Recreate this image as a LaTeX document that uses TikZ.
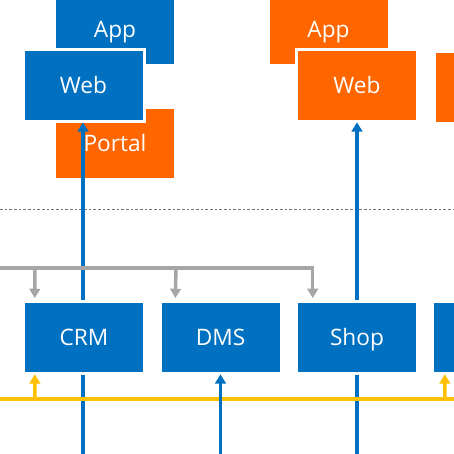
\documentclass[tikz,border=0pt]{standalone}
\usepackage{fontspec}
\setmainfont{Open Sans}
\usetikzlibrary{arrows.meta}
\usetikzlibrary{calc}

\definecolor{sysblue}{RGB}{0,112,192}
\definecolor{sysorange}{RGB}{255,102,0}
\definecolor{busgray}{RGB}{166,166,166}
\definecolor{busyellow}{RGB}{255,192,0}

\tikzset{
  sysbox/.style={rectangle, minimum width=88.5pt, minimum height=51.75pt, inner sep=0pt,
    text=white, font=\fontsize{17}{19}\selectfont, text height=12pt, text depth=0pt,
    preaction={draw=white, line width=5pt}},
  blueline/.style={draw=sysblue, line width=2.6pt},
  grayline/.style={draw=busgray, line width=2.6pt},
  yellowline/.style={draw=busyellow, line width=2.6pt},
  tip/.style={-{Triangle[width=8pt,length=7pt]}},
}

\begin{document}
\begin{tikzpicture}[x=0.75pt,y=0.75pt,yscale=-1,xscale=1]
\clip (0,0) rectangle (454,454);

%Left channel boxes
\node[sysbox, fill=sysblue] (appL) at (115,29.5) {App};
\node[sysbox, fill=sysorange] (portal) at (115,143.5) {Portal};
\node[sysbox, fill=sysblue] (webL) at (83.5,85.5) {Web};

%Right channel boxes
\node[sysbox, fill=sysorange] (appR) at (328.5,29.5) {App};
\node[sysbox, fill=sysorange] (webR) at (357,85.5) {Web};
\node[sysbox, fill=sysorange] (extR) at (495,87) {};

%Dashed separator
\coordinate (sepL) at (0,209);
\coordinate (sepR) at (454,209);
\draw [busgray!70!black, line width=0.6pt, dash pattern={on 2pt off 1.5pt}] (sepL) -- (sepR);

%Floor of the picture
\coordinate (floor) at (0,454);

%Lines up to the web channels
\draw [blueline, tip, shorten >=1.5pt] (83,454) -- (webL.south -| 83,0);
\draw [blueline, tip, shorten >=1.5pt] (357,454) -- (webR.south);

%System boxes
\node[sysbox, fill=sysblue] (crm) at (84,337.5) {CRM};
\node[sysbox, fill=sysblue] (dms) at (220.5,337.5) {DMS};
\node[sysbox, fill=sysblue] (shop) at (357,337.5) {Shop};
\node[sysbox, fill=sysblue] (extB) at (493,337.5) {};

%Gray bus
\coordinate (gbus) at (0,268);
\draw [grayline, tip, shorten >=3.5pt] (gbus) -| ($(shop.north west)+(15,0)$);
\draw [grayline, tip, shorten >=3.5pt] (gbus -| 35,0) -- ($(crm.north west)+(10,0)$);
\draw [grayline, tip, shorten >=3.5pt] (gbus -| 176,0) -- ($(dms.north west)+(14,0)$);

%Yellow bus
\coordinate (ybusL) at (0,399);
\coordinate (ybusR) at (454,399);
\draw [yellowline] (ybusL) -- (ybusR);
\draw [yellowline, tip, shorten >=1.5pt] (ybusL -| 35,0) -- ($(crm.south west)+(10,0)$);
\draw [yellowline, tip, shorten >=1.5pt] (ybusL -| 445,0) -- ($(extB.south west)+(11,0)$);

%Line up to DMS
\draw [blueline, tip, shorten >=1.5pt] (floor -| dms) -- (dms.south);

\end{tikzpicture}
\end{document}
